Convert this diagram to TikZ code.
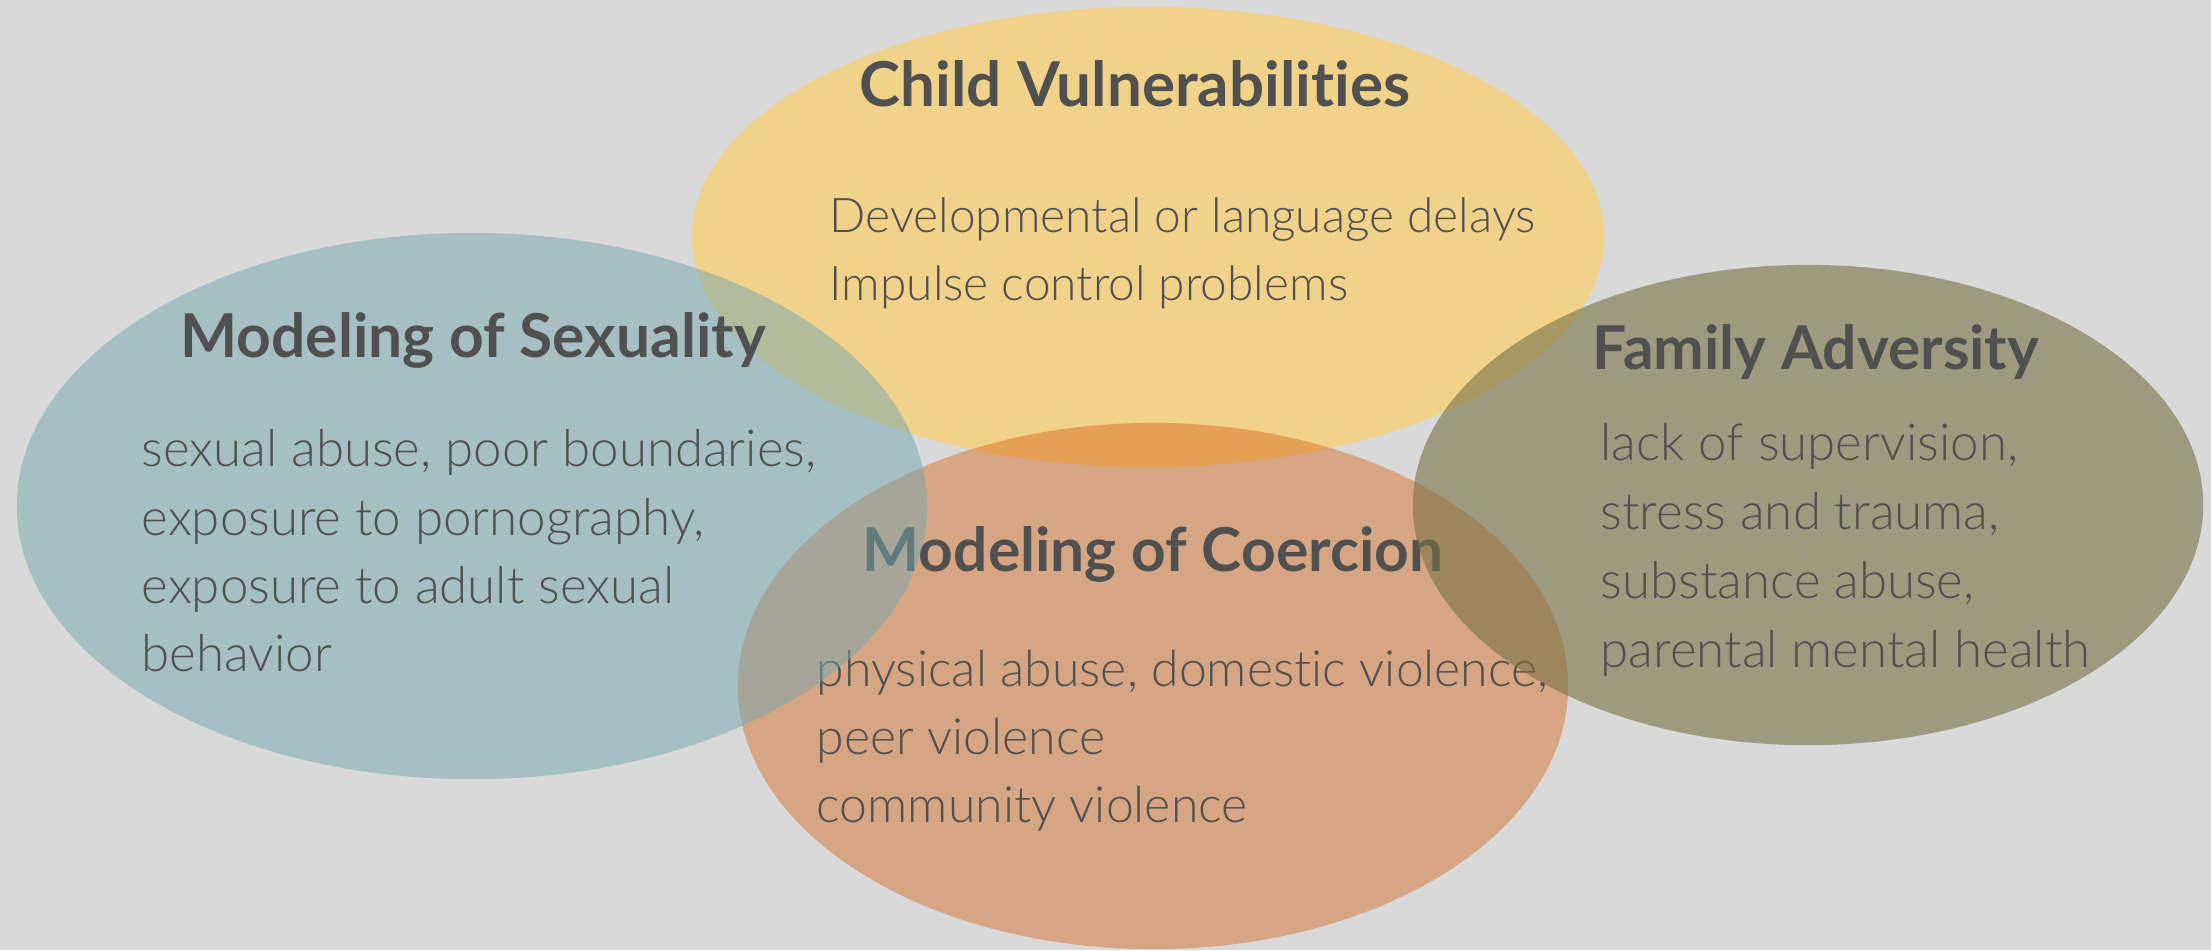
\documentclass[tikz,border=0pt]{standalone}
\usepackage{fontspec}
\usetikzlibrary{shapes.geometric}
\newfontfamily\headfont[Ligatures=CommonOff]{Lato Bold}
\newfontfamily\bodyfont[Ligatures=CommonOff]{Lato Light}
\definecolor{bgc}{RGB}{217,217,217}
\definecolor{childc}{RGB}{240,210,138}
\definecolor{sexc}{RGB}{117,167,175}
\definecolor{coerc}{RGB}{210,87,5}
\definecolor{famc}{RGB}{119,112,69}
\definecolor{inkc}{RGB}{80,80,80}
\tikzset{
  blob/.style={ellipse, draw=none, inner sep=0pt},
  headtxt/.style={anchor=base, inner sep=0pt, text=inkc, font=\headfont\fontsize{17.2}{20}\selectfont},
  bodytxt/.style={anchor=north west, inner sep=0pt, align=left, text=inkc, font=\bodyfont\fontsize{14.2}{19.4}\selectfont},
}
\begin{document}
\begin{tikzpicture}[x=0.01cm, y=-0.01cm]
  \fill[bgc] (0,0) rectangle (2211,950);
  \useasboundingbox (0,0) rectangle (2211,950);

  % child vulnerabilities
  \node[blob, fill=childc, minimum width=9.12cm, minimum height=4.6cm] (child) at (1148,237) {};
  \node[headtxt, font=\headfont\fontsize{17.6}{20}\selectfont] (childhead) at (1135,106) {Child Vulnerabilities};
  \node[bodytxt, font=\bodyfont\fontsize{13.6}{19.4}\selectfont] (childbody) at (829,197) {Developmental or language delays\\Impulse control problems};

  % modeling of coercion
  \node[blob, fill=coerc, fill opacity=0.4, minimum width=8.3cm, minimum height=5.26cm] (coer) at (1153,686) {};
  \node[headtxt] (coerhead) at (1153,571) {Modeling of Coercion};
  \node[bodytxt] (coerbody) at (816,649) {physical abuse, domestic violence,\\peer violence\\community violence};

  % modeling of sexuality
  \node[blob, fill=sexc, fill opacity=0.5, minimum width=9.1cm, minimum height=5.46cm] (sex) at (472,506) {};
  \node[headtxt] (sexhead) at (473,357) {Modeling of Sexuality};
  \node[bodytxt, font=\bodyfont\fontsize{14.5}{19.4}\selectfont] (sexbody) at (141,429) {sexual abuse, poor boundaries,\\exposure to pornography,\\exposure to adult sexual\\behavior};

  % family adversity
  \node[blob, fill=famc, fill opacity=0.6, minimum width=7.9cm, minimum height=4.8cm] (fam) at (1808,505) {};
  \node[headtxt] (famhead) at (1816,369) {Family Adversity};
  \node[bodytxt, font=\bodyfont\fontsize{14.5}{19.6}\selectfont] (fambody) at (1600,423) {lack of supervision,\\stress and trauma,\\substance abuse,\\parental mental health};
\end{tikzpicture}
\end{document}
